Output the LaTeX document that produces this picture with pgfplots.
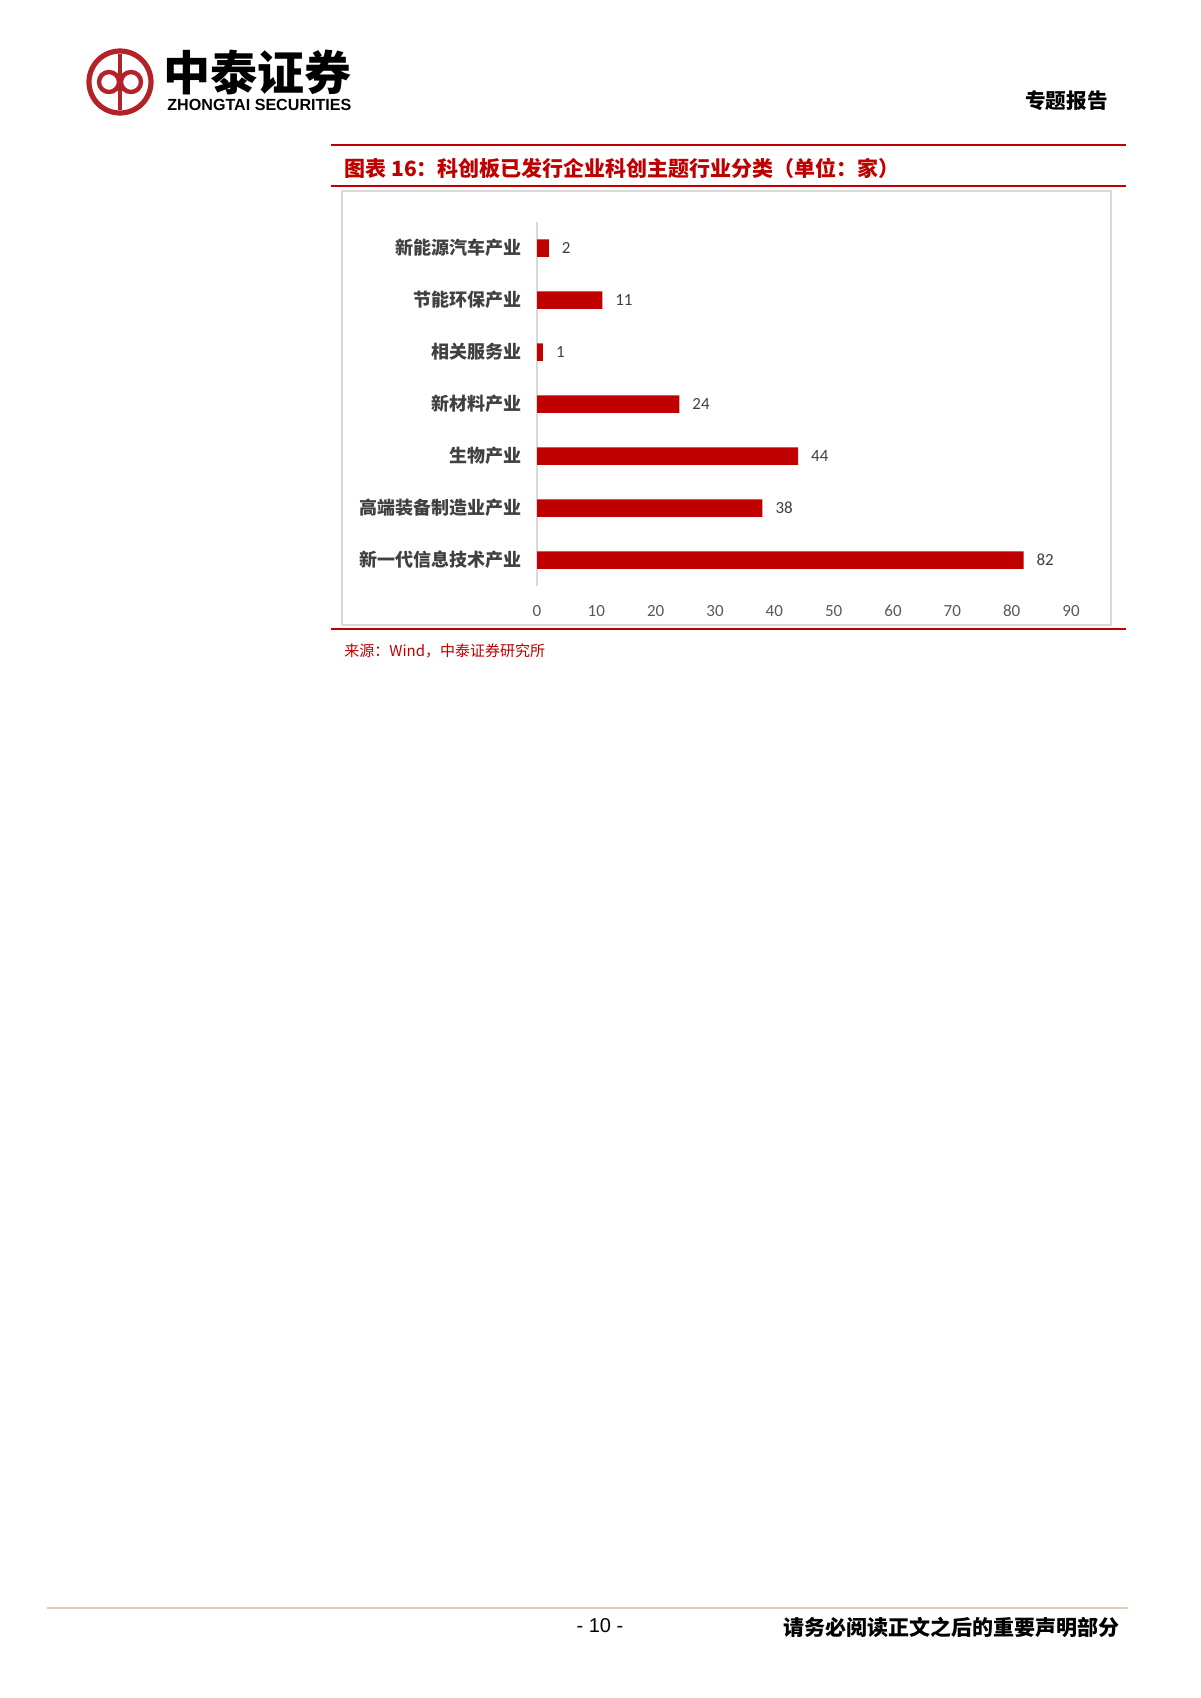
\documentclass[border=0pt]{standalone}
\usepackage{fontspec}
\setmainfont{Noto Sans CJK SC}
\newfontfamily\carlito{Carlito}
\newfontfamily\arial{Liberation Sans}
\usepackage{pgfplots}
\pgfplotsset{compat=1.18}

\definecolor{zhred}{RGB}{192,0,0}
\definecolor{logored}{RGB}{178,34,40}
\definecolor{boxgray}{RGB}{217,217,217}
\definecolor{labgray}{RGB}{64,64,64}
\definecolor{tickgray}{RGB}{89,89,89}
\definecolor{footline}{RGB}{228,205,190}

\begin{document}
\begin{tikzpicture}
\useasboundingbox[fill=white] (0,0) rectangle (600pt,-849pt);

% page furniture, in reference pixels (1px = 0.5pt, y downwards)
\begin{scope}[x=0.5pt,y=-0.5pt]
  % logo
  \draw[logored, line width=2.6pt] (120,82) circle (31);
  \draw[logored, line width=2.2pt] (109,82) circle (10);
  \draw[logored, line width=2.2pt] (131,82) circle (10);
  \draw[logored, line width=2.2pt] (120,54) -- (120,110);
  \node[anchor=west, inner sep=0] at (163,72)
    {\fontsize{23.5}{26}\selectfont\bfseries 中泰证券};
  \node[anchor=west, inner sep=0] at (167,105)
    {\resizebox{92pt}{!}{\arial\bfseries ZHONGTAI SECURITIES}};
  \node[anchor=east, inner sep=0] at (1108,101)
    {\fontsize{10.3}{12}\selectfont\bfseries 专题报告};

  % chart frame and title rules
  \draw[boxgray, line width=0.6pt] (342,191) rectangle (1111,625);
  \draw[zhred, line width=1.4pt] (331,145) -- (1126,145);
  \draw[zhred, line width=1.4pt] (331,186) -- (1126,186);
  \draw[zhred, line width=1.4pt] (331,629) -- (1126,629);
  \node[anchor=west, inner sep=0, text=zhred] at (344,168)
    {\fontsize{10.5}{12}\selectfont\bfseries 图表 16：科创板已发行企业科创主题行业分类（单位：家）};
  \node[anchor=west, inner sep=0, text=zhred] at (344,651)
    {\fontsize{7.5}{9}\selectfont 来源：Wind，中泰证券研究所};

  % footer
  \draw[footline, line width=1.4pt] (47,1608) -- (1128,1608);
  \node[inner sep=0] at (600,1626) {\arial\fontsize{10}{12}\selectfont - 10 -};
  \node[anchor=east, inner sep=0] at (1120,1627)
    {\fontsize{10.5}{12}\selectfont\bfseries 请务必阅读正文之后的重要声明部分};
\end{scope}

\begin{axis}[
    at={(268.5pt,-293pt)}, anchor=south west,
    scale only axis,
    width=267pt, height=182pt,
    xbar,
    bar width=8.75pt,
    xmin=0, xmax=90,
    ymin=-0.5, ymax=6.5,
    xtick={0,10,...,90},
    ytick={0,...,6},
    yticklabels={新一代信息技术产业,高端装备制造业产业,生物产业,新材料产业,相关服务业,节能环保产业,新能源汽车产业},
    axis lines*=left,
    x axis line style={draw=none},
    y axis line style={draw=boxgray, line width=0.6pt},
    tick style={draw=none},
    /pgf/number format/assume math mode=true,
    xticklabel style={font=\carlito\fontsize{8.5}{10}\selectfont, text=tickgray, yshift=-6pt},
    yticklabel style={font=\fontsize{9}{11}\selectfont\bfseries, text=labgray, inner sep=0pt, xshift=-3.5pt},
    nodes near coords,
    every node near coord/.append style={font=\carlito\fontsize{8.5}{10}\selectfont, text=labgray, xshift=3pt},
]
  \addplot[fill=zhred, draw=none] coordinates {
    (82,0) (38,1) (44,2) (24,3) (1,4) (11,5) (2,6)
  };
\end{axis}
\end{tikzpicture}
\end{document}
